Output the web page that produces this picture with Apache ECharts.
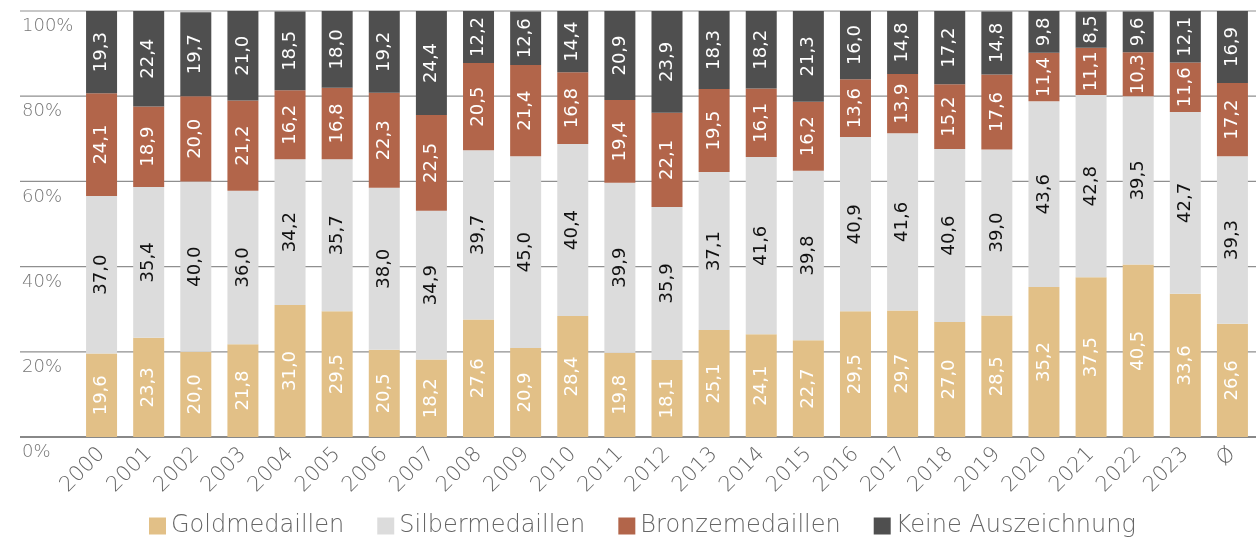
<!DOCTYPE html>
<html><head><meta charset="utf-8">
<script src="https://cdn.jsdelivr.net/npm/echarts@6/dist/echarts.min.js"></script>
<style>html,body{margin:0;padding:0;background:#fff}#c{width:1256px;height:543px}</style>
</head><body><div id="c"></div>
<script>
const categories = ['2000','2001','2002','2003','2004','2005','2006','2007','2008','2009','2010','2011','2012','2013','2014','2015','2016','2017','2018','2019','2020','2021','2022','2023','Ø'];
const gold   = [19.6,23.3,20.0,21.8,31.0,29.5,20.5,18.2,27.6,20.9,28.4,19.8,18.1,25.1,24.1,22.7,29.5,29.7,27.0,28.5,35.2,37.5,40.5,33.6,26.6];
const silver = [37.0,35.4,40.0,36.0,34.2,35.7,38.0,34.9,39.7,45.0,40.4,39.9,35.9,37.1,41.6,39.8,40.9,41.6,40.6,39.0,43.6,42.8,39.5,42.7,39.3];
const bronze = [24.1,18.9,20.0,21.2,16.2,16.8,22.3,22.5,20.5,21.4,16.8,19.4,22.1,19.5,16.1,16.2,13.6,13.9,15.2,17.6,11.4,11.1,10.3,11.6,17.2];
const none   = [19.3,22.4,19.7,21.0,18.5,18.0,19.2,24.4,12.2,12.6,14.4,20.9,23.9,18.3,18.2,21.3,16.0,14.8,17.2,14.8,9.8,8.5,9.6,12.1,16.9];
const yTicks = [0,20,40,60,80,100];
const seriesNames = ['Goldmedaillen','Silbermedaillen','Bronzemedaillen','Keine Auszeichnung'];

const FONT = '"DejaVu Sans", sans-serif';
const colors = ['#E2C087','#DCDCDC','#B2654A','#4F4F4F'];
const labelColors = ['#fff','#111','#fff','#fff'];
const fmt = v => v.toFixed(1).replace('.', ',');

const chart = echarts.init(document.getElementById('c'), null, {renderer:'canvas'});
const dataSets = [gold, silver, bronze, none];
const barSeries = seriesNames.map((name,i)=>({
  name, type:'bar', stack:'total', xAxisIndex:0, yAxisIndex:0, barWidth:31, z:5,
  itemStyle:{color:colors[i]},
  label:{show:true, position:'inside', rotate:90, fontSize:18, color:labelColors[i], fontFamily:FONT,
    formatter: p => fmt(p.value)},
  data: dataSets[i]
}));
// horizontal gridlines drawn as plain line series on the full-width helper grid
const gridLineSeries = yTicks.map(v => ({
  type:'line', xAxisIndex:1, yAxisIndex:1, silent:true, z:1, symbol:'none',
  clip:false, animation:false,
  lineStyle:{color: v === 0 ? '#888' : '#8f8f8f', width: v === 0 ? 2 : 1.2},
  data:[[0, v],[1, v]]
}));
chart.setOption({
  animation:false,
  textStyle:{fontFamily:FONT},
  color: colors,
  legend:{
    data: seriesNames, bottom: 0, left:144, itemWidth:17, itemHeight:17, itemGap:33,
    icon:'rect', textStyle:{fontSize:24, color:'#666', fontFamily:FONT, fontWeight:200}
  },
  grid:[
    {left:78, width:1185, top:11, bottom:106, containLabel:false},
    {left:20, right:0, top:11, bottom:106, containLabel:false}
  ],
  xAxis:[
    {type:'category', data:categories, gridIndex:0,
     axisLine:{show:false}, axisTick:{show:false}, splitLine:{show:false},
     axisLabel:{rotate:45, fontSize:21, color:'#666', margin:14, fontFamily:FONT, fontWeight:200, interval:0}},
    {type:'value', gridIndex:1, show:false, min:0, max:1}
  ],
  yAxis:[
    {type:'value', gridIndex:0, min:0, max:100, interval:20, show:false, splitLine:{show:false}},
    {type:'value', gridIndex:1, min:0, max:100, interval:20,
     axisLine:{show:false}, axisTick:{show:false}, splitLine:{show:false},
     axisLabel:{inside:true, verticalAlign:'top', lineHeight:31, margin:2, fontSize:18, color:'#777', fontFamily:FONT, fontWeight:200,
       formatter: v => yTicks.includes(v) ? v + '%' : ''}}
  ],
  series: gridLineSeries.concat(barSeries)
});
</script></body></html>
